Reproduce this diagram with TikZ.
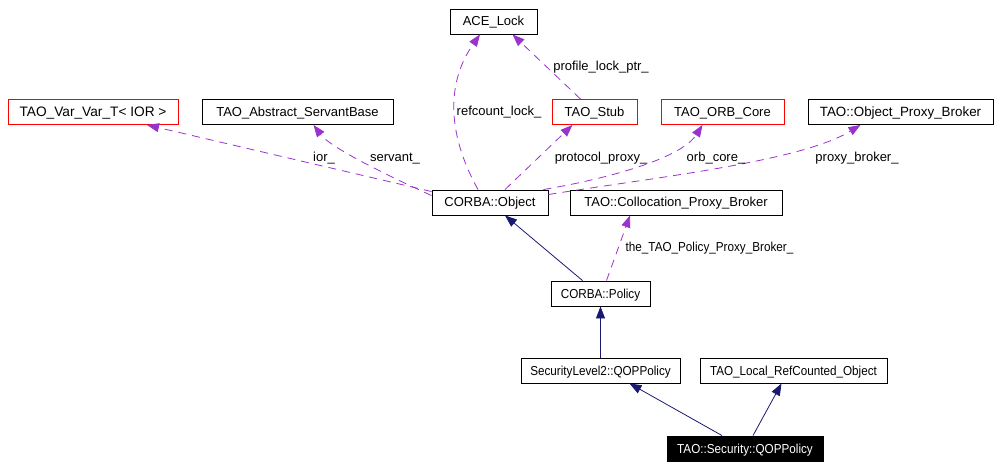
\documentclass[tikz,border=0pt]{standalone}
\usepackage{fontspec}
\setmainfont{Liberation Sans}
\newfontfamily\narrowfont[FakeStretch=0.9]{Liberation Sans}
\usetikzlibrary{arrows.meta}
\definecolor{dep}{HTML}{9A32CD}
\definecolor{inh}{HTML}{191970}
\tikzset{
  cls/.style={draw=black, line width=0.9pt, fill=white, inner sep=0pt, minimum height=25pt, text height=9.5pt, text depth=0.5pt, font=\fontsize{13}{15}\selectfont},
  smallcls/.style={cls, font=\narrowfont\fontsize{13}{15}\selectfont},
  redcls/.style={cls, draw=red},
  maincls/.style={smallcls, fill=black, text=white},
  depline/.style={draw=dep, dashed, dash pattern=on 8pt off 6pt, line width=0.8pt, -{Triangle[length=12pt,width=9pt]}, dep},
  inhline/.style={draw=inh, line width=0.8pt, -{Triangle[length=12pt,width=9pt]}, inh},
  lbl/.style={font=\fontsize{13}{15}\selectfont, inner sep=0pt, text height=9.5pt, text depth=0.5pt},
  smalllbl/.style={lbl, font=\narrowfont\fontsize{13}{15}\selectfont}
}
\begin{document}
\begin{tikzpicture}[x=1pt,y=-1pt]
\useasboundingbox (0,0) rectangle (999,468);
% nodes
\node[redcls, minimum width=170pt, font=\fontsize{13.7}{15}\selectfont] (var) at (93,112) {TAO\_Var\_Var\_T< IOR >};
\node[cls, minimum width=191pt] (asb) at (297.5,112) {TAO\_Abstract\_ServantBase};
\node[cls, minimum width=87pt] (acel) at (493.5,21.5) {ACE\_Lock};
\node[redcls, minimum width=85pt] (stub) at (594.5,112) {TAO\_Stub};
\node[redcls, minimum width=123pt] (orb) at (722.5,112) {TAO\_ORB\_Core};
\node[cls, minimum width=185pt, font=\fontsize{13.4}{15}\selectfont] (opb) at (900.5,112) {TAO::Object\_Proxy\_Broker};
\node[cls, minimum width=116pt] (obj) at (490,202.5) {CORBA::Object};
\node[cls, minimum width=212pt] (cpb) at (676,202.5) {TAO::Collocation\_Proxy\_Broker};
\node[smallcls, minimum width=99pt] (pol) at (600.5,293.5) {CORBA::Policy};
\node[smallcls, minimum width=159pt] (sl2) at (600.5,370.5) {SecurityLevel2::QOPPolicy};
\node[smallcls, minimum width=187pt] (lrc) at (793.5,370.5) {TAO\_Local\_RefCounted\_Object};
\node[maincls, minimum width=156pt] (qop) at (745,448.5) {TAO::Security::QOPPolicy};
% dependency edges
\draw[depline] ([yshift=-2pt]obj.north west) -- ([xshift=54pt]var.south);
\draw[depline] ([yshift=-6pt]obj.north west) .. controls (380,172) and (330,147) .. ([xshift=16pt]asb.south);
\draw[depline] ([xshift=-12pt]obj.north) .. controls (445,130) and (448,80) .. ([xshift=-13.5pt]acel.south);
\draw[depline] ([xshift=-14pt]stub.north) -- ([xshift=19pt]acel.south);
\draw[depline] ([xshift=15pt]obj.north) -- ([xshift=-22pt]stub.south);
\draw[depline] ([xshift=-5pt]obj.north east) .. controls (600,180) and (680,160) .. ([xshift=-20pt]orb.south);
\draw[depline] ([yshift=-5pt]obj.north east) .. controls (650,178) and (800,162) .. ([xshift=-40pt]opb.south);
\draw[depline] ([xshift=6pt]pol.north) -- ([xshift=-46pt]cpb.south);
% labels
\node[lbl] (l1) at (324,157) {ior\_};
\node[lbl] (l2) at (395,157) {servant\_};
\node[lbl] (l3) at (499,111) {refcount\_lock\_};
\node[lbl] (l4) at (601,66) {profile\_lock\_ptr\_};
\node[lbl] (l5) at (601,157) {protocol\_proxy\_};
\node[lbl] (l6) at (716,157) {orb\_core\_};
\node[lbl] (l7) at (857,157) {proxy\_broker\_};
\node[smalllbl] (l8) at (709.5,247) {the\_TAO\_Policy\_Proxy\_Broker\_};
% inheritance edges
\draw[inhline] ([xshift=-18pt]pol.north) -- ([xshift=15pt]obj.south);
\draw[inhline] (sl2.north) -- (pol.south);
\draw[inhline] ([xshift=-23pt]qop.north) -- ([xshift=29pt]sl2.south);
\draw[inhline] ([xshift=8pt]qop.north) -- ([xshift=-12pt]lrc.south);
\end{tikzpicture}
\end{document}
